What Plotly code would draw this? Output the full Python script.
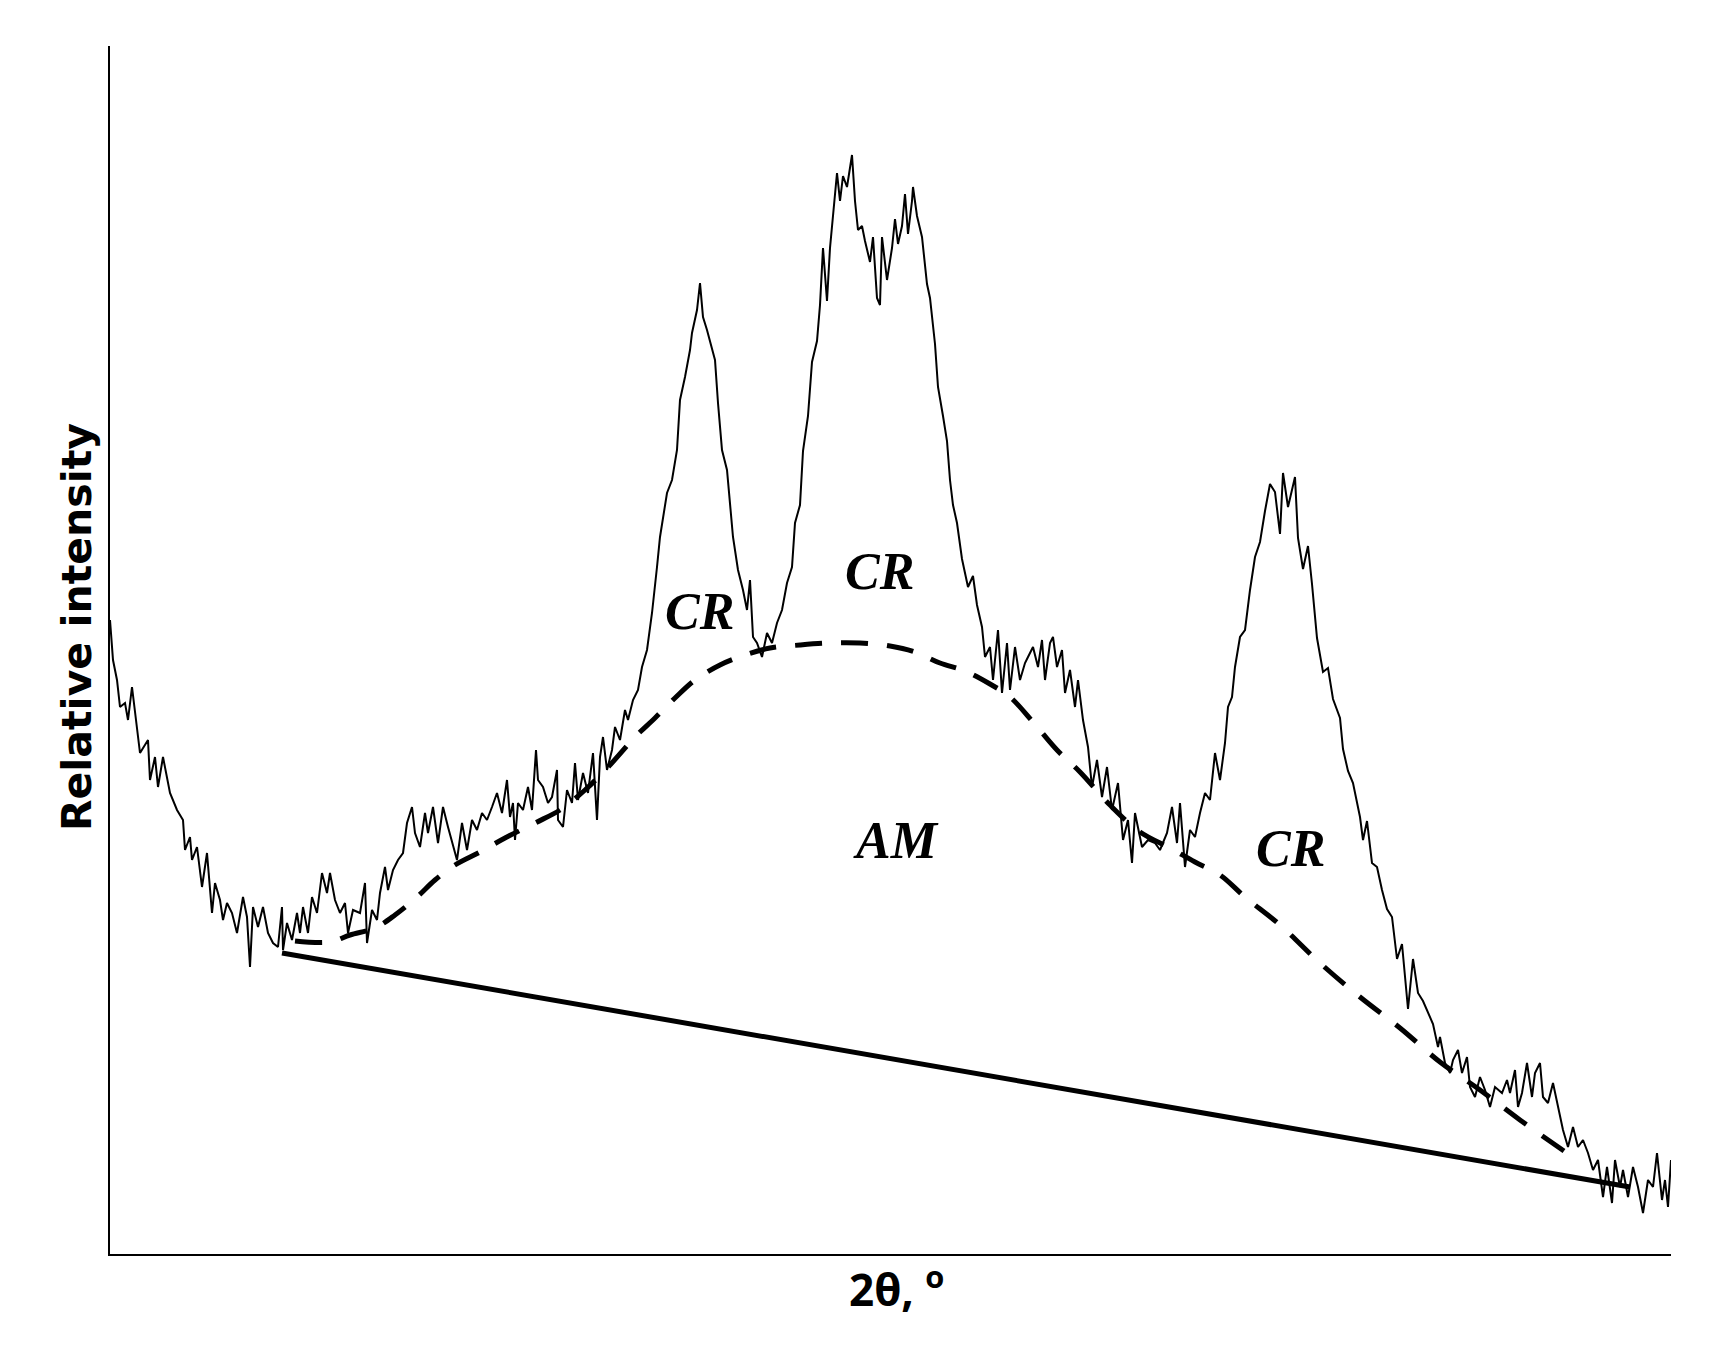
import plotly.graph_objects as go

two_theta = [
    0, 3, 7, 10, 15, 18, 22, 25, 30, 38, 40, 45, 48, 53, 60, 67, 73, 75, 80, 82,
    87, 92, 97, 102, 105, 110, 113, 117, 122, 127, 133, 137, 140, 143, 148, 153, 158, 163, 168, 172,
    173, 177, 182, 187, 190, 193, 198, 202, 207, 212, 217, 220, 225, 230, 235, 238, 243, 250, 255, 257,
    262, 267, 270, 275, 278, 283, 288, 293, 297, 302, 305, 310, 315, 318, 323, 328, 333, 338, 343, 347,
    352, 357, 362, 367, 372, 377, 382, 387, 392,
    397, 400, 403, 405, 408, 413, 418, 422, 426, 428, 433, 438, 442, 447, 448, 453, 457, 462, 465, 468,
    473, 478, 483, 487, 490, 493, 497, 502, 505, 510, 515, 518, 523, 528, 532, 537,
    542, 547, 550, 557, 562, 567, 570, 575, 580, 582, 587, 590, 593, 597, 602, 605, 608, 612, 617, 620,
    623, 628, 633, 637, 640, 643, 647, 652, 657, 662, 667, 672, 677, 682,
    685, 690, 693, 698, 702, 707, 710, 713, 717, 720, 723, 727, 730, 733, 737, 742, 745, 748, 752, 755,
    760, 763, 767, 770, 772, 777, 782, 785, 788, 792, 795, 798, 802, 803, 807, 812, 817, 820, 825, 828,
    833, 837, 840, 843, 847, 852, 858, 863, 867,
    872, 875, 880, 883, 888, 892, 897, 900, 905, 910, 915, 918, 923, 928, 932, 935, 940, 943, 947, 952,
    955, 960, 965, 968, 973, 978, 982, 987, 992, 997, 1002, 1008, 1013, 1018, 1022, 1025, 1032, 1038, 1045, 1050,
    1057, 1062, 1067, 1070, 1075, 1080, 1085, 1090, 1095, 1100, 1105, 1110, 1115, 1118, 1122, 1125, 1130, 1135, 1137, 1140,
    1145, 1150, 1155, 1160, 1165, 1170, 1173, 1178, 1185, 1188, 1193, 1198, 1202, 1207, 1213, 1218, 1223, 1230, 1233, 1238,
    1243, 1250, 1253, 1257, 1262, 1267, 1272, 1277, 1282, 1287, 1292, 1298, 1303, 1308, 1313, 1318, 1323, 1328,
    1330, 1335, 1340, 1343, 1348, 1352, 1357, 1360, 1365, 1370, 1375, 1380, 1385, 1392, 1397, 1400, 1405, 1408, 1412, 1417,
    1422, 1425, 1430, 1433, 1438, 1443, 1448, 1453, 1458, 1463, 1468, 1473, 1478, 1483, 1488, 1493, 1497, 1502, 1505, 1510,
    1513, 1518, 1523, 1528, 1533, 1538, 1543, 1547, 1552, 1555, 1558, 1561,
]
intensity = [
    634, 594, 574, 547, 551, 534, 567, 544, 501, 514, 474, 497, 467, 497, 461, 444, 434, 404, 417, 394,
    407, 367, 401, 341, 371, 354, 334, 351, 341, 321, 357, 337, 287, 347, 327, 347, 321, 311, 307, 347,
    304, 331, 314, 341, 321, 347, 321, 357, 341, 381, 361, 381, 354, 341, 351, 321, 344, 341, 371, 311,
    344, 334, 361, 387, 364, 384, 394, 401, 431, 447, 421, 407, 441, 421, 447, 411, 447, 427, 407, 394,
    431, 404, 434, 424, 441, 434, 447, 461, 441,
    474, 437, 451, 414, 451, 444, 467, 444, 504, 474, 467, 451, 457, 484, 434, 427, 464, 451, 491, 454,
    481, 461, 501, 434, 497, 517, 484, 504, 527, 514, 544, 534, 554, 564, 587, 604,
    641, 687, 717, 761, 774, 804, 854, 877, 904, 921, 944, 971, 937, 924, 904, 894, 851, 804, 784, 751,
    717, 684, 664, 644, 674, 617, 611, 597, 621, 611, 631, 644, 671, 687,
    731, 749, 803, 838, 892, 913, 949, 1006, 953, 1006, 1042, 1081, 1053, 1078, 1067, 1099, 1053, 1024, 1028, 1013,
    992, 1017, 956, 949, 1017, 974, 1006, 1035, 1010, 1028, 1060, 1020, 1053, 1067, 1038, 1017, 970, 956, 910, 867,
    838, 813, 774, 749, 731, 695, 667, 678, 649,
    627, 597, 607, 574, 624, 561, 611, 564, 607, 574, 591, 597, 607, 587, 614, 574, 611, 617, 587, 604,
    561, 584, 547, 574, 534, 507, 467, 494, 457, 487, 444, 471, 414, 434, 391, 441, 407, 414, 411, 404,
    421, 447, 411, 451, 387, 424, 417, 441, 461, 454, 501, 474, 511, 547, 557, 587, 617, 624, 641, 664,
    697, 712, 743, 770, 762, 720, 781, 747, 777, 716, 685, 708, 670, 616, 582, 586, 555, 536, 505, 483,
    471, 437, 414, 433, 391, 387, 364, 345, 337, 295, 310, 245, 295, 261, 253, 241, 230, 207,
    217, 191, 181, 194, 204, 181, 197, 167, 157, 177, 164, 147, 167, 161, 174, 161, 184, 147, 161, 191,
    157, 181, 191, 157, 151, 171, 147, 124, 107, 127, 107, 114, 101, 84, 94, 57, 87, 51, 94, 67,
    84, 57, 87, 67, 41, 74, 67, 101, 54, 74, 47, 94,
]

# ---- amorphous halo (dashed) ----
am_two_theta = [
    185, 220, 240, 265, 285, 307, 325, 345, 370, 395, 425, 450, 475, 500, 525, 545, 565, 585, 610, 635,
    660, 690, 720, 750, 780, 805, 830, 855, 880, 900, 923, 947, 970, 1000, 1030, 1060, 1085, 1110, 1135, 1170,
    1210, 1250, 1290, 1330, 1370, 1410, 1467,
]
am_intensity = [
    313, 312, 319, 326, 339, 357, 374, 389, 402, 416, 431, 444, 464, 489, 517, 536, 556, 574, 589, 599,
    606, 609, 611, 611, 608, 602, 591, 583, 570, 557, 532, 504, 482, 449, 422, 406, 392, 379, 357, 329,
    291, 257, 226, 192, 164, 134, 94,
]

# ---- straight background line ----
base_two_theta = [172, 1520]
base_intensity = [301, 67]

# ---- region labels ----
label_text = ["CR", "CR", "CR", "AM"]
label_two_theta = [589, 769, 1180, 786]
label_intensity = [643, 683, 406, 414]

x_range = [0, 1561]
y_range = [0, 1208]

fig = go.Figure()
fig.add_trace(go.Scatter(x=two_theta, y=intensity, mode="lines",
                         line=dict(color="black", width=2), hoverinfo="skip"))
fig.add_trace(go.Scatter(x=am_two_theta, y=am_intensity, mode="lines",
                         line=dict(color="black", width=5, dash="27px,19px", shape="spline"),
                         hoverinfo="skip"))
fig.add_trace(go.Scatter(x=base_two_theta, y=base_intensity, mode="lines",
                         line=dict(color="black", width=5), hoverinfo="skip"))

label_font = dict(family="Liberation Serif", size=52, color="black", weight="bold", style="italic")
for t, lx, ly in zip(label_text, label_two_theta, label_intensity):
    fig.add_annotation(x=lx, y=ly, xref="x", yref="y", text=t, showarrow=False,
                       font=label_font, xanchor="center", yanchor="middle")

fig.add_annotation(x=-0.0211, y=0.519, xref="paper", yref="paper",
                   text="Relative intensity", textangle=-90, showarrow=False,
                   font=dict(family="DejaVu Sans", size=41, color="black", weight="bold"),
                   xanchor="center", yanchor="middle")
fig.add_annotation(x=0.504, y=0.001, xref="paper", yref="paper",
                   text="2θ, <sup>o</sup>", showarrow=False,
                   font=dict(family="Open Sans", size=44, color="black", weight="bold"),
                   xanchor="center", yanchor="top")

axis_common = dict(showline=True, linecolor="black", linewidth=2, showgrid=False,
                   zeroline=False, showticklabels=False, ticks="", fixedrange=True)
fig.update_layout(
    width=1699, height=1332,
    margin=dict(l=102, r=36, t=38, b=86),
    paper_bgcolor="white", plot_bgcolor="white",
    showlegend=False,
    xaxis=dict(range=x_range, **axis_common),
    yaxis=dict(range=y_range, **axis_common),
)

fig.write_html("out.html")
